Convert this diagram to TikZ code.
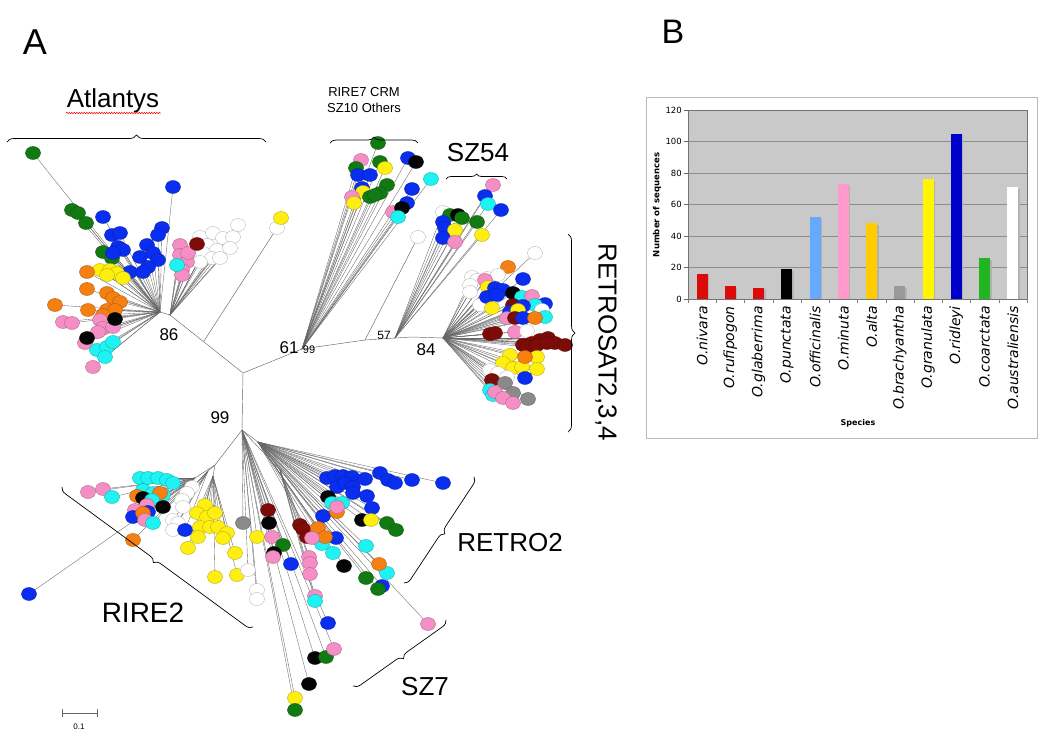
\documentclass[tikz,border=0pt]{standalone}
\usepackage{fontspec}
\setmainfont{Liberation Sans}
\newfontfamily\chartfont{DejaVu Sans}
\usetikzlibrary{decorations.pathreplacing,decorations.pathmorphing}
\definecolor{tblue}{HTML}{0A2EF0}
\definecolor{tgreen}{HTML}{127A12}
\definecolor{torange}{HTML}{F67F12}
\definecolor{tpink}{HTML}{F48EC4}
\definecolor{tcyan}{HTML}{1EF2F2}
\definecolor{tyellow}{HTML}{FFEF10}
\definecolor{tblack}{HTML}{050505}
\definecolor{tmaroon}{HTML}{7D0C08}
\definecolor{tgrey}{HTML}{8A8A8A}
\definecolor{twhite}{HTML}{FFFFFF}
\definecolor{bred}{HTML}{DD0A0A}
\definecolor{bsky}{HTML}{66AAFF}
\definecolor{bpink}{HTML}{FF99CC}
\definecolor{bgold}{HTML}{FFCC00}
\definecolor{bgrey}{HTML}{999999}
\definecolor{byellow}{HTML}{FFF500}
\definecolor{bblue}{HTML}{0000CC}
\definecolor{bgreen}{HTML}{22B522}
\definecolor{plotbg}{HTML}{C9C9C9}

% leaves: x/y/colour, in pixels of the figure
\def\atl{33/153/tgreen, 72/210/tgreen, 78/213/tgreen, 86/223/tgreen, 103/252/tgreen, 112/258/tgreen,
  173/187/tblue, 103/217/tblue, 112/235/tblue, 120/233/tblue, 118/247/tblue, 123/250/tblue, 162/228/tblue,
  158/235/tblue, 147/245/tblue, 153/253/tblue, 140/257/tblue, 158/260/tblue, 148/267/tblue, 130/272/tblue,
  143/272/tblue, 113/253/tblue,
  100/270/tyellow, 110/270/tyellow, 117/273/tyellow, 123/278/tyellow, 107/275/tyellow,
  87/272/torange, 87/289/torange, 55/305/torange, 88/310/torange, 107/293/torange, 113/298/torange,
  120/302/torange, 107/310/torange, 115/310/torange, 103/315/torange,
  63/322/tpink, 72/323/tpink, 100/320/tpink, 103/328/tpink, 98/332/tpink, 113/327/tpink, 93/367/tpink, 85/343/tpink,
  115/319/tblack, 87/338/tblack,
  97/350/tcyan, 107/347/tcyan, 113/342/tcyan, 105/357/tcyan}
\def\atlb{200/237/twhite, 213/233/twhite, 223/238/twhite, 233/237/twhite, 238/225/twhite, 207/245/twhite,
  217/250/twhite, 230/248/twhite, 203/253/twhite, 212/258/twhite, 220/258/twhite, 200/262/twhite,
  180/245/tpink, 180/255/tpink, 187/262/tpink, 182/270/tpink, 182/275/tpink, 188/253/tpink,
  177/265/tcyan, 197/244/tmaroon}
\def\rsev{378/143/tgreen, 361/160/tpink, 380/162/tgreen, 385/168/tyellow, 408/158/tblue, 416/162/tblack,
  356/168/tgreen, 358/175/tblue, 370/175/tblue, 431/179/tcyan, 362/188/tblue, 363/192/tyellow,
  387/185/tgreen, 380/193/tgreen, 370/197/tgreen, 375/195/tgreen, 352/197/tpink, 354/203/tyellow,
  412/189/tblue, 407/203/tblue, 393/212/tpink, 402/208/tblack, 398/217/tcyan}
\def\szff{493/185/tpink, 485/196/tblue, 488/204/tcyan, 501/210/tblue, 477/222/tgreen, 482/235/tyellow,
  443/212/twhite, 450/215/tgreen, 458/215/tblack, 462/218/tgreen, 443/222/tblue, 445/228/tblue,
  455/230/tyellow, 443/238/tblue, 455/242/tpink}
\def\rsat{535/253/twhite, 508/267/torange, 523/279/tblue, 472/277/twhite, 477/280/twhite, 487/278/twhite,
  498/275/twhite, 470/285/twhite, 470/292/twhite, 480/305/twhite, 485/280/tpink, 488/287/tyellow,
  495/288/tblue, 503/290/tblue, 487/297/tblue, 497/295/tblue, 513/293/tblack, 522/297/tcyan, 532/296/tpink,
  545/304/tblue, 535/305/tcyan, 542/310/twhite, 545/317/tcyan, 492/308/tyellow, 513/305/tmaroon,
  523/306/tblue, 510/312/tblue, 518/310/tyellow, 507/318/tpink, 515/318/tmaroon, 523/318/tblue,
  535/318/torange, 490/334/tmaroon, 495/333/tmaroon, 515/332/tpink, 527/331/twhite,
  523/345/tmaroon, 532/343/tmaroon, 540/340/tmaroon, 548/338/tmaroon, 555/343/tmaroon, 565/345/tmaroon,
  527/347/tmaroon, 537/345/tmaroon, 547/343/tmaroon,
  510/355/tyellow, 503/363/tyellow, 513/368/tyellow, 522/367/tyellow, 537/357/tyellow, 537/369/tyellow,
  525/357/torange, 490/370/twhite, 498/373/twhite, 507/377/twhite, 525/378/tblue, 492/380/tmaroon,
  505/383/tgrey, 513/393/tgrey, 528/399/tgrey, 490/390/tcyan, 493/395/tcyan, 495/392/tpink,
  503/398/tpink, 513/403/tpink}
\def\rtwo{88/492/tpink, 103/489/tpink, 112/497/tcyan, 140/478/tcyan, 148/478/tcyan, 158/478/tcyan,
  167/480/tcyan, 173/483/tcyan, 143/490/tcyan, 153/493/tcyan, 163/495/tcyan, 137/496/torange,
  143/498/tblack, 160/493/torange, 152/500/tcyan, 147/505/tpink, 163/507/tblack, 135/510/tpink,
  133/517/tblue, 148/512/tblue, 143/513/torange, 145/520/tpink, 153/523/tcyan, 133/540/torange, 29/594/tblue}
\def\rtwow{192/487/twhite, 187/493/twhite, 182/500/twhite, 183/507/twhite, 173/520/twhite,
  178/523/twhite, 173/530/twhite, 185/530/tblue}
\def\rtwoy{205/505/tyellow, 197/513/tyellow, 207/517/tyellow, 215/513/tyellow, 200/527/tyellow,
  210/527/tyellow, 218/527/tyellow, 227/533/tyellow, 198/537/tyellow, 223/538/tyellow, 188/548/tyellow,
  235/553/tyellow, 215/577/tyellow, 237/575/tyellow}
\def\lng{257/537/tyellow, 248/570/twhite, 257/590/twhite, 257/599/twhite, 243/523/tgrey, 268/510/tmaroon,
  269/523/tblack, 272/537/tpink, 283/545/tgreen, 274/553/tblack, 273/557/tpink, 291/564/tblue,
  315/658/tblack, 326/657/tgreen, 334/649/tpink, 328/623/tblue, 309/684/tblack, 295/698/tyellow, 295/710/tgreen}
\def\mrn{300/525/tmaroon, 303/529/tmaroon, 307/537/tmaroon, 309/557/tpink, 310/563/tpink, 310/574/tpink,
  315/596/tpink, 315/601/tcyan}
\def\rtro{327/478/tblue, 335/476/tblue, 343/476/tblue, 352/477/tblue, 337/487/tblue, 345/483/tblue,
  353/487/tblue, 353/493/tblue, 365/479/tblue, 380/473/tblue, 388/480/tblue, 395/483/tblue, 412/480/tblue,
  443/483/tblue, 367/496/tblue, 372/508/tblue, 323/516/tblue, 336/538/tblue, 382/586/tblue,
  328/497/tblack, 362/520/tblack, 344/566/tblack, 332/503/tcyan, 342/503/tcyan, 322/544/tcyan,
  333/553/tcyan, 366/546/tcyan, 387/573/tcyan, 337/512/torange, 318/528/torange, 325/537/torange,
  379/564/torange, 337/507/tpink, 312/538/tpink, 428/624/tpink, 371/520/tyellow, 387/523/tgreen,
  396/530/tgreen, 366/578/tgreen, 378/589/tgreen}
\def\lone{277/228/twhite, 281/218/tyellow, 418/237/twhite}

\newcommand\drawclade[2]{\foreach \x/\y/\c in #2 {\path (\x,\y) coordinate (lf); \draw[br] (#1) -- (lf);}}
\newcommand\drawleaves[1]{\foreach \x/\y/\c in #1 {\filldraw[leaf, fill=\c, draw=\c!72!black] (\x,\y) ellipse [x radius=7.5pt, y radius=6.5pt];}}

\begin{document}
\begin{tikzpicture}[x=1pt, y=-1pt,
    br/.style={draw=black!60, line width=0.35pt},
    bb/.style={draw=black!60, line width=0.45pt},
    leaf/.style={line width=0.4pt},
    brc/.style={decorate, decoration={brace, amplitude=#1}, line width=0.7pt},
    brc/.default=7pt,
    big/.style={font=\fontsize{26}{30}\selectfont},
    boot/.style={font=\fontsize{17}{20}\selectfont},
    ax/.style={font=\chartfont\fontsize{8.5}{10}\selectfont},
    sp/.style={font=\chartfont\itshape\fontsize{14}{16}\selectfont, inner sep=0pt}]
  \useasboundingbox (0,0) rectangle (1045,742);

  % tree A
  \coordinate (c) at (243,373);
  \coordinate (n86) at (170,315);
  \coordinate (ha) at (160,312);
  \coordinate (nb) at (204,341);
  \coordinate (n61) at (302,349);
  \coordinate (n57) at (365,340);
  \coordinate (h54) at (395,338);
  \coordinate (n84) at (412,337);
  \coordinate (hr) at (443,338);
  \coordinate (n99) at (242,430);
  \coordinate (n2a) at (215,465);
  \coordinate (h2) at (195,478);
  \coordinate (hw) at (208,471);
  \coordinate (hy) at (213,476);
  \coordinate (hq) at (258,442);
  \coordinate (hm) at (280,470);
  \coordinate (lw1) at (277,228);
  \coordinate (lw2) at (418,237);

  \draw[bb] (c) -- (n86) -- (ha);
  \draw[bb] (nb) -- (lw1);
  \draw[bb] (c) -- (n61) -- (n57) -- (h54) -- (n84) -- (hr);
  \draw[bb] (n57) -- (lw2);
  \draw[bb] (c) -- (n99) -- (n2a) -- (h2);
  \draw[bb] (n2a) -- (hw); \draw[bb] (n2a) -- (hy);
  \draw[bb] (n99) -- (hq); \draw[bb] (n99) -- (hm);
  \drawclade{ha}{\atl}
  \drawclade{n86}{\atlb}
  \drawclade{n61}{\rsev}
  \drawclade{h54}{\szff}
  \drawclade{hr}{\rsat}
  \drawclade{h2}{\rtwo}
  \drawclade{hw}{\rtwow}
  \drawclade{hy}{\rtwoy}
  \drawclade{n99}{\lng}
  \drawclade{hm}{\mrn}
  \drawclade{hq}{\rtro}
  \drawleaves{\atl}
  \drawleaves{\atlb}
  \drawleaves{\rsev}
  \drawleaves{\szff}
  \drawleaves{\rsat}
  \drawleaves{\rtwo}
  \drawleaves{\rtwow}
  \drawleaves{\rtwoy}
  \drawleaves{\lng}
  \drawleaves{\mrn}
  \drawleaves{\rtro}
  \drawleaves{\lone}

  % bootstrap values
  \node[boot] (b86) at (169,335) {86};
  \node[boot] (b61) at (289,348) {61};
  \node[font=\fontsize{11}{13}\selectfont] (b99s) at (309,350) {99};
  \node[font=\fontsize{12}{14}\selectfont] (b57) at (384,335) {57};
  \node[boot] (b84) at (426,350) {84};
  \node[boot] (b99) at (220,418) {99};

  % clade labels
  \node[font=\fontsize{36}{40}\selectfont] (pa) at (35,42) {A};
  \node[big] (tatl) at (113,101) {Atlantys};
  \draw[red, line width=0.5pt, decorate, decoration={snake, amplitude=0.7pt, segment length=2.5pt}] (66,113) -- (161,113);
  \draw[brc] (7,142) -- (266,142);
  \node[align=center, font=\fontsize{13}{16}\selectfont] (trire) at (364,100) {RIRE7 CRM\\SZ10 Others};
  \draw[brc=6pt] (330,143) -- (418,143);
  \node[big] (tsz54) at (478,153) {SZ54};
  \draw[brc=5pt] (446,179) -- (507,179);
  \draw[brc] (568,234) -- (568,432);
  \node[big, rotate=-90] (tsat) at (606,342) {RETROSAT2,3,4};
  \draw[brc] (474,477) -- (404,583);
  \node[big] (tretro) at (510,543) {RETRO2};
  \draw[brc] (446,620) -- (353,686);
  \node[big] (tsz7) at (425,687) {SZ7};
  \draw[brc] (253,627) -- (62,487);
  \node[font=\fontsize{28}{32}\selectfont] (trire2) at (143,613) {RIRE2};

  % scale bar
  \draw[black!60, line width=0.5pt] (62,713) -- (97,713) (62,709) -- (62,717) (97,709) -- (97,717);
  \node[font=\fontsize{8}{10}\selectfont] (tsc) at (79,727) {0.1};

  % chart B
  \node[font=\fontsize{34}{38}\selectfont] (pb) at (673,32) {B};
  \draw[black!28, line width=0.6pt] (646,97) rectangle (1037,438);
  \fill[plotbg] (688,110) rectangle (1027,299);
  \foreach \t in {0,20,...,120} {
    \pgfmathsetmacro\yy{299-\t*1.575}
    \draw[black!45, line width=0.5pt] (688,\yy) -- (1027,\yy);
    \draw[black!60, line width=0.5pt] (684,\yy) -- (688,\yy);
    \node[ax, anchor=east, inner sep=1pt] at (683,\yy) {\t};
  }
  \draw[black!55, line width=0.6pt] (688,110) rectangle (1027,299);
  \foreach \i in {0,...,12} \draw[black!50, line width=0.5pt] ({688+\i*28.25},299) -- ++(0,4);
  \foreach \v/\s/\c [count=\i] in {16/O.nivara/bred, 8/O.rufipogon/bred, 7/O.glaberrima/bred,
      19/O.punctata/black, 52/O.officinalis/bsky, 73/O.minuta/bpink, 48/O.alta/bgold,
      8/O.brachyantha/bgrey, 76/O.granulata/byellow, 105/O.ridleyi/bblue, 26/O.coarctata/bgreen,
      71/O.australiensis/white} {
    \pgfmathsetmacro\xc{688+(\i-0.5)*28.25}
    \pgfmathsetmacro\yt{299-\v*1.575}
    \fill[black!30] (\xc-4,\yt+1.5) rectangle (\xc+7,299);
    \fill[\c] (\xc-5.5,\yt) rectangle (\xc+5.5,299);
    \node[sp, rotate=90, anchor=east] (s\i) at (\xc,306) {\s};
  }
  \node[font=\chartfont\bfseries\fontsize{8.5}{10}\selectfont, rotate=90] (ylab) at (657,205) {Number of sequences};
  \node[font=\chartfont\bfseries\fontsize{8}{10}\selectfont] (xlab) at (858,423) {Species};
\end{tikzpicture}
\end{document}
